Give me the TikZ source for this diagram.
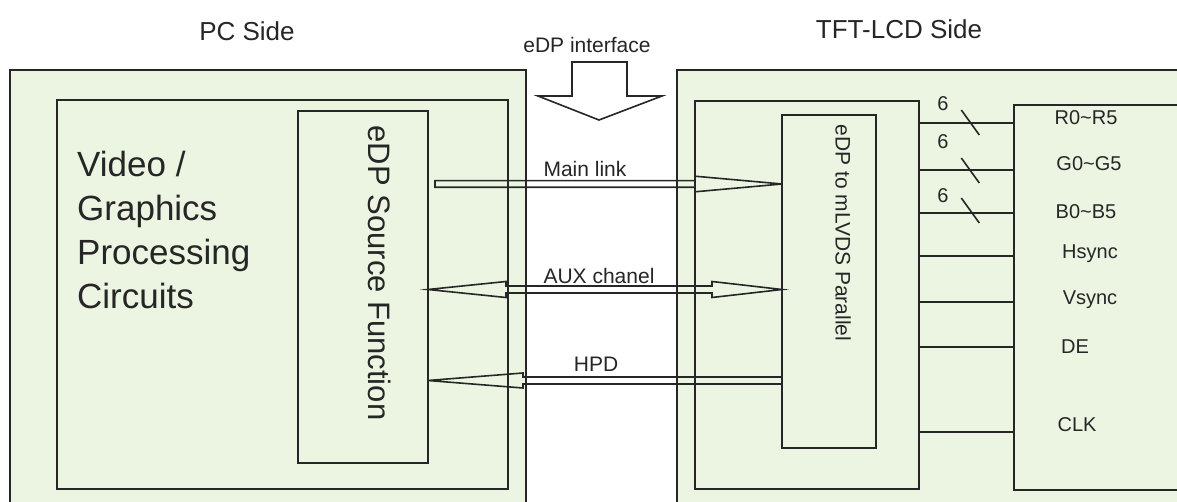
\documentclass[tikz,border=0pt]{standalone}
\usepackage{fontspec}
\setmainfont{Liberation Sans}
\usetikzlibrary{calc}
\definecolor{ink}{HTML}{262626}
\definecolor{pale}{RGB}{236,245,226}
\begin{document}
\begin{tikzpicture}[x=1pt,y=-1pt,
  box/.style={draw=ink, line width=1.8pt, fill=pale, anchor=north west, inner sep=0pt, outer sep=0pt},
  lbl/.style={inner sep=0pt, text=ink},
  sig/.style={draw=ink, line width=2.6pt},
  thin/.style={draw=ink, line width=1.6pt},
  hollow right/.style n args={3}{to path={let \p1=(\tikztostart), \p2=(\tikztotarget) in
    (\x1,\y2+#2) -- (\x2-#1,\y2+#2) -- (\x2-#1,\y2+#3) -- (\p2) -- (\x2-#1,\y2-#3) -- (\x2-#1,\y2-#2) -- (\x1,\y2-#2) -- cycle}},
  hollow both/.style n args={4}{to path={let \p1=(\tikztostart), \p2=(\tikztotarget) in
    (\p1) -- (\x1+#1,\y1+#4) -- (\x1+#1,\y1+#3) -- (\x2-#2,\y1+#3) -- (\x2-#2,\y1+#4) -- (\x2,\y1) -- (\x2-#2,\y1-#4) -- (\x2-#2,\y1-#3) -- (\x1+#1,\y1-#3) -- (\x1+#1,\y1-#4) -- cycle}},
  hollow left/.style n args={3}{to path={let \p1=(\tikztostart), \p2=(\tikztotarget) in
    (\p1) -- (\x1+#1,\y1+#3) -- (\x1+#1,\y1+#2) -- (\x2,\y1+#2) -- (\x2,\y1-#2) -- (\x1+#1,\y1-#2) -- (\x1+#1,\y1-#3) -- cycle}}
]
\useasboundingbox (0,0) rectangle (1177,502);
\clip (0,0) rectangle (1177,502);
\fill[white] (0,0) rectangle (1177,502);

% boxes
\node[box, minimum width=516pt, minimum height=470pt] (pc) at (10,70) {};
\node[box, minimum width=451pt, minimum height=389pt] (vg) at (57,100) {};
\node[box, minimum width=130pt, minimum height=352pt] (src) at (298,111) {};
\node[box, minimum width=540pt, minimum height=470pt] (tft) at (677,70) {};
\node[box, minimum width=224pt, minimum height=388pt] (cont) at (695,101) {};
\node[box, minimum width=94pt, minimum height=333pt] (mlvds) at (782,115) {};
\node[box, minimum width=200pt, minimum height=385pt] (rx) at (1014,105) {};

% titles
\node[lbl, font=\fontsize{26}{30}\selectfont] (pcl) at (247,31) {PC Side};
\node[lbl, font=\fontsize{26}{30}\selectfont] (tftl) at (899,29) {TFT-LCD Side};
\node[lbl, font=\fontsize{21}{25}\selectfont] (ifl) at (587,45) {eDP interface};

% big interface arrow
\draw[thin, fill=white] (572,62) -- (627,62) -- (627,96) -- (662,96) -- (599,120) -- (538,96) -- (572,96) -- cycle;

% box texts
\node[lbl, anchor=north west, align=left, font=\fontsize{35}{44}\selectfont] (vgt) at (77,151) {Video /\\Graphics\\Processing\\Circuits};
\node[lbl, rotate=-90, font=\fontsize{31}{36}\selectfont] (srct) at (380,273) {eDP Source Function};
\node[lbl, rotate=-90, font=\fontsize{21}{25}\selectfont] (mlt) at (843,233) {eDP to mLVDS Parallel};

% link rows
\coordinate (yML) at (0,184);
\coordinate (yAUX) at (0,289.5);
\coordinate (yHPD) at (0,380.5);
\draw[thin, hollow right={87pt}{3.3pt}{7.8pt}] ($(src.east |- yML)+(7,0)$) to (mlvds.west |- yML);
\draw[thin, hollow both={78pt}{70pt}{3.5pt}{8pt}] (src.east |- yAUX) to (mlvds.west |- yAUX);
\draw[thin, hollow left={95pt}{3.5pt}{7.5pt}] (src.east |- yHPD) to (mlvds.west |- yHPD);
\node[lbl, font=\fontsize{21}{25}\selectfont] (mll) at (585,169) {Main link};
\node[lbl, font=\fontsize{21}{25}\selectfont] (auxl) at (599,276) {AUX chanel};
\node[lbl, font=\fontsize{21}{25}\selectfont] (hpdl) at (596,364) {HPD};

% parallel outputs
\foreach \n/\y in {R/123, G/170, B/213, H/256, V/302, E/347, K/432}{
  \coordinate (y\n) at (0,\y);
  \draw[sig] (cont.east |- y\n) -- (rx.west |- y\n);
}
\foreach \n/\y in {R/-1, G/0, B/-3}{
  \draw[thin] ($(cont.east |- y\n)!0.54!(rx.west |- y\n)+(-9,-12+\y)$) -- ++(18,25);
}
\node[lbl, font=\fontsize{20}{24}\selectfont] (nR) at (943,104) {6};
\node[lbl, font=\fontsize{20}{24}\selectfont] (nG) at (943,142) {6};
\node[lbl, font=\fontsize{20}{24}\selectfont] (nB) at (943,196) {6};

\node[lbl, font=\fontsize{20}{24}\selectfont] (tR) at (1086,118) {R0\char`~R5};
\node[lbl, font=\fontsize{20}{24}\selectfont] (tG) at (1089,164) {G0\char`~G5};
\node[lbl, font=\fontsize{20}{24}\selectfont] (tB) at (1086,212) {B0\char`~B5};
\node[lbl, font=\fontsize{20}{24}\selectfont] (tH) at (1090,254) {Hsync};
\node[lbl, font=\fontsize{20}{24}\selectfont] (tV) at (1090,300) {Vsync};
\node[lbl, font=\fontsize{20}{24}\selectfont] (tE) at (1075,347) {DE};
\node[lbl, font=\fontsize{20}{24}\selectfont] (tK) at (1077,425) {CLK};
\end{tikzpicture}
\end{document}
